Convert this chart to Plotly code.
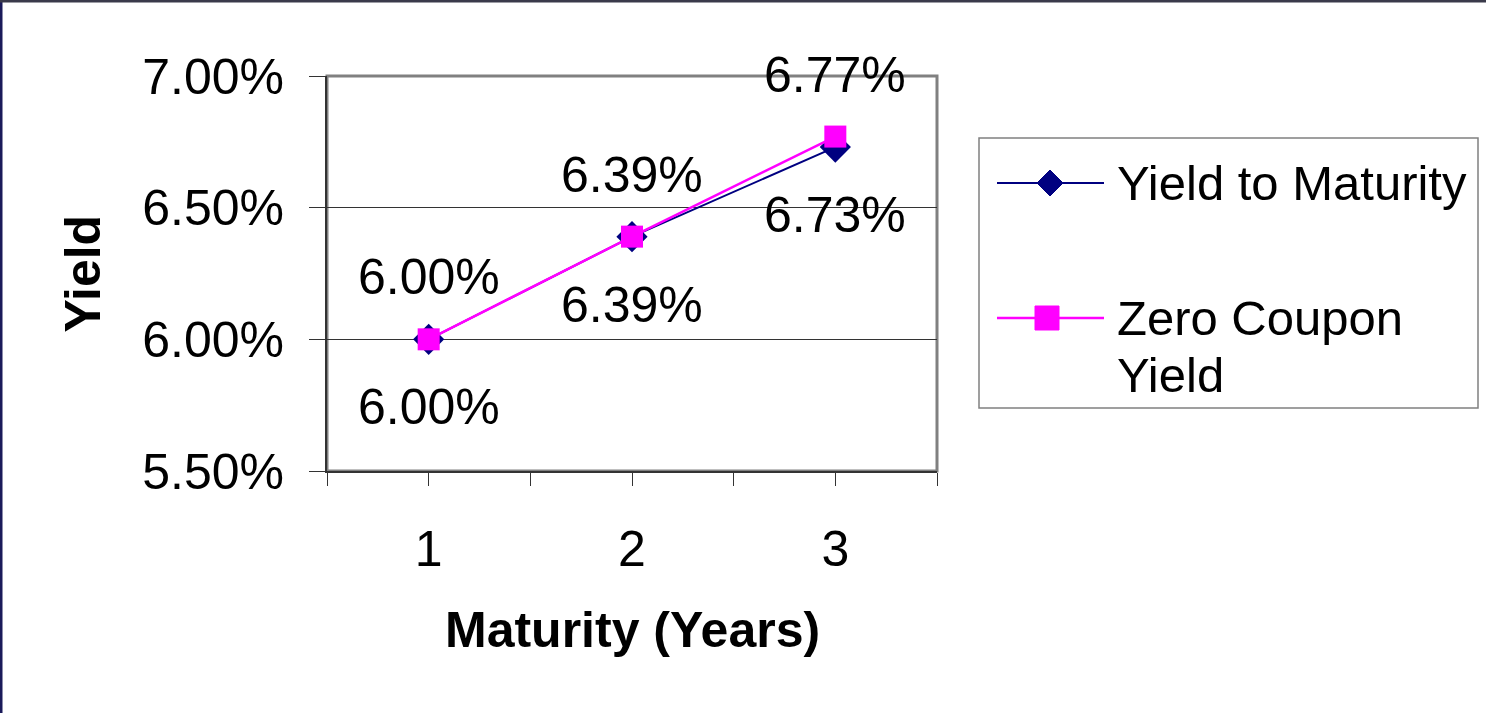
import plotly.graph_objects as go

# Term structure: yield to maturity vs. zero coupon yield
maturity = [1, 2, 3]
ytm = [6.00, 6.39, 6.73]
zero_coupon = [6.00, 6.39, 6.77]
series_names = ["Yield to Maturity", "Zero Coupon", "Yield"]

y_ticks = [5.50, 6.00, 6.50, 7.00]
x_ticks = [0.5, 1, 1.5, 2, 2.5, 3, 3.5]
x_ticktext = ["", "1", "", "2", "", "3", ""]

FONT = "Liberation Sans, Arial, sans-serif"
FS = 50
LEG_FS = 49
NAVY = "#000080"
MAGENTA = "#FF00FF"

# figure geometry in pixels
W, H = 1486, 713
L, R, T, B = 327, 549, 76, 242
PW, PH = W - L - R, H - T - B


def px(x):
    return (x - L) / PW


def py(y):
    return (H - B - y) / PH


fig = go.Figure()
fig.add_trace(go.Scatter(
    x=maturity, y=ytm, mode="lines+markers", name=series_names[0],
    line=dict(color=NAVY, width=2),
    marker=dict(symbol="diamond", size=24, color=NAVY),
))
fig.add_trace(go.Scatter(
    x=maturity, y=zero_coupon, mode="lines+markers",
    name=series_names[1] + " " + series_names[2],
    line=dict(color=MAGENTA, width=2.5),
    marker=dict(symbol="square", size=22, color=MAGENTA),
))

annotations = []
# value labels: YTM below its points, zero coupon above
for xv, v in zip(maturity, ytm):
    annotations.append(dict(x=xv, y=v, text=f"{v:.2f}%", showarrow=False,
                            yshift=-68, font=dict(size=FS, color="black", family=FONT)))
for xv, v in zip(maturity, zero_coupon):
    annotations.append(dict(x=xv, y=v, text=f"{v:.2f}%", showarrow=False,
                            yshift=62, font=dict(size=FS, color="black", family=FONT)))

# axis titles
annotations.append(dict(xref="paper", yref="paper", x=px(82), y=0.5,
                        xanchor="center", yanchor="middle",
                        text="<b>Yield</b>", textangle=-90, showarrow=False,
                        font=dict(size=FS, color="black", family=FONT)))
annotations.append(dict(xref="paper", yref="paper", x=px(632), y=py(630),
                        xanchor="center", yanchor="middle",
                        text="<b>Maturity (Years)</b>",
                        showarrow=False, font=dict(size=FS, color="black", family=FONT)))

# legend text
for label, yc in zip(series_names, [183, 318, 375]):
    annotations.append(dict(xref="paper", yref="paper", x=px(1115), y=py(yc),
                            xanchor="left", yanchor="middle", text=label,
                            showarrow=False,
                            font=dict(size=LEG_FS, color="black", family=FONT)))

shapes = [
    # plot area frame
    dict(type="rect", xref="paper", yref="paper", x0=0, x1=1, y0=0, y1=1,
         line=dict(color="#808080", width=3), layer="below"),
    # outer frame edges
    dict(type="line", xref="paper", yref="paper", x0=px(1), x1=px(1),
         y0=py(H), y1=py(0), line=dict(color="#1a1a5a", width=3)),
    dict(type="line", xref="paper", yref="paper", x0=px(0), x1=px(W),
         y0=py(1), y1=py(1), line=dict(color="#3a3a4a", width=3)),
    # legend box
    dict(type="rect", xref="paper", yref="paper", x0=px(979), x1=px(1478),
         y0=py(408), y1=py(138), line=dict(color="#808080", width=1.5),
         fillcolor="white"),
    # legend keys
    dict(type="line", xref="paper", yref="paper", x0=px(997), x1=px(1104),
         y0=py(183), y1=py(183), line=dict(color=NAVY, width=2)),
    dict(type="path", xref="paper", yref="paper",
         path=f"M {px(1050)},{py(170)} L {px(1063)},{py(183)} L {px(1050)},{py(196)} "
              f"L {px(1037)},{py(183)} Z",
         fillcolor=NAVY, line=dict(color=NAVY, width=1)),
    dict(type="line", xref="paper", yref="paper", x0=px(997), x1=px(1104),
         y0=py(318), y1=py(318), line=dict(color=MAGENTA, width=2.5)),
    dict(type="rect", xref="paper", yref="paper", x0=px(1035), x1=px(1059),
         y0=py(330), y1=py(306), fillcolor=MAGENTA, line=dict(color=MAGENTA, width=1)),
]

fig.update_layout(
    width=W, height=H,
    margin=dict(l=L, r=R, t=T, b=B),
    paper_bgcolor="white", plot_bgcolor="white",
    font=dict(family=FONT, size=FS, color="black"),
    showlegend=False,
    annotations=annotations,
    shapes=shapes,
)
fig.update_xaxes(
    range=[0.5, 3.5], tickvals=x_ticks, ticktext=x_ticktext,
    ticks="outside", ticklen=13, tickcolor="#333333", tickwidth=1,
    showline=True, linecolor="#333333", linewidth=2,
    showgrid=False, zeroline=False, ticklabelstandoff=20,
    tickfont=dict(size=FS, family=FONT, color="black"),
)
fig.update_yaxes(
    range=[5.5, 7.0], tickvals=y_ticks, ticktext=[f"{v:.2f}%" for v in y_ticks],
    ticks="outside", ticklen=16, tickcolor="#333333", tickwidth=1,
    showline=True, linecolor="#333333", linewidth=2,
    showgrid=True, gridcolor="#333333", gridwidth=1, zeroline=False,
    ticklabelstandoff=15,
    tickfont=dict(size=FS, family=FONT, color="black"),
)

fig.write_html("out.html")
